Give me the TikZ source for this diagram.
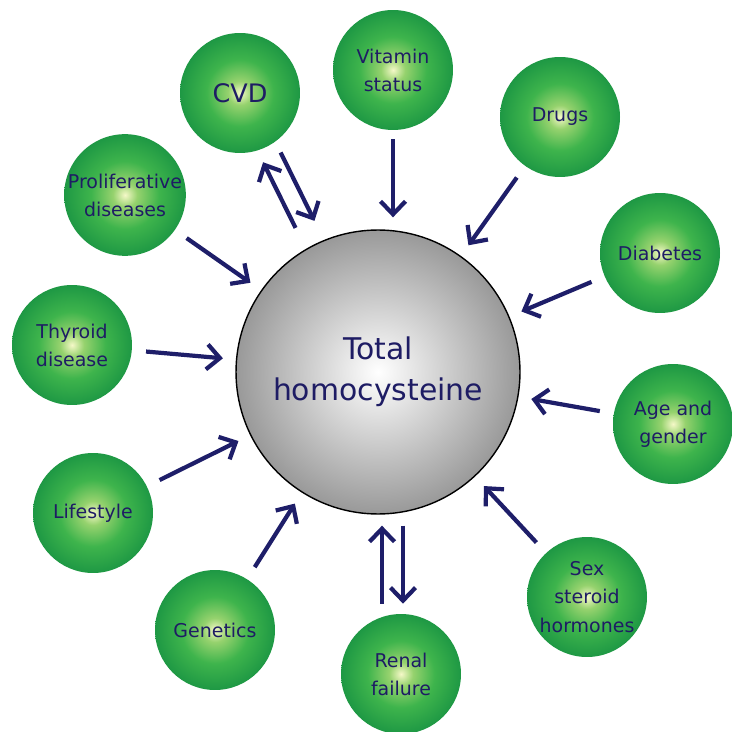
\documentclass[tikz,border=0pt]{standalone}
\usepackage{fontspec}
\setmainfont{DejaVu Sans}
\usepackage{tikz}
\usetikzlibrary{arrows.meta,calc,positioning}

\definecolor{arrowblue}{RGB}{30,30,105}
\definecolor{textblue}{RGB}{30,28,100}
\definecolor{ballhi}{RGB}{245,248,200}
\definecolor{ballsoft}{RGB}{150,210,110}
\definecolor{ballmid}{RGB}{62,180,76}
\definecolor{balledge}{RGB}{30,152,68}
\pgfdeclareradialshading{greenball}{\pgfpoint{0bp}{0bp}}{color(0bp)=(ballhi); color(5bp)=(ballsoft); color(14bp)=(ballmid); color(25bp)=(balledge); color(50bp)=(balledge)}

\begin{document}
\begin{tikzpicture}[x=0.02cm, y=-0.02cm,
		ball/.style={circle, shading=greenball, minimum size=2.4cm, inner sep=0pt,
			align=center, text=textblue, font=\fontsize{10.8}{16}\selectfont},
		hcyball/.style={circle, draw=black, line width=0.8pt, shading=radial,
			inner color=white, outer color=black!40, minimum size=5.68cm,
			align=center, text=textblue, font=\fontsize{17}{23.5}\selectfont},
		arr/.style={draw=arrowblue, line width=2.4pt,
			-{Straight Barb[length=0.26cm, width=0.5cm]},
			shorten <=0.28cm, shorten >=0.26cm}]
	\useasboundingbox (0,0) rectangle (731,732);
	
	% Centre
	\node[hcyball] (hcy) at (378,372) {Total\\homocysteine};
	
	% Surrounding factors
	\node[ball, font=\fontsize{14.5}{17}\selectfont] (cvd) at (240,93) {CVD};
	\foreach \name/\x/\y/\txt in {
		vit/393/70/{Vitamin\\status},
		drugs/560/117/{Drugs},
		diab/660/253/{Diabetes},
		age/673/424/{Age and\\gender},
		sex/587/597/{Sex\\steroid\\hormones},
		renal/401/674/{Renal\\failure},
		gen/215/630/{Genetics},
		life/93/513/{Lifestyle},
		thy/72/345/{Thyroid\\disease},
		prol/125/195/{Proliferative\\diseases}} {
		\node[ball] (\name) at (\x,\y) {\txt};
	}
	
	% One-way arrows
	\foreach \a in {drugs,diab,age,sex,gen,life,thy,prol} {
		\draw[arr] (\a) -- (hcy);
	}
	\draw[arr, shorten <=0.18cm, shorten >=0.24cm] (vit) -- (vit |- hcy.north);
	
	% Two-way arrows: CVD
	\draw[arr, shorten <=0.46cm, shorten >=0.24cm,
		transform canvas={shift={(-9,4.4)}}] (hcy) -- (cvd);
	\draw[arr, shorten <=0.22cm, shorten >=0.42cm,
		transform canvas={shift={(9,-4.4)}}] (cvd) -- (hcy);
	
	% Two-way arrows: renal failure
	\coordinate (rl) at ([xshift=-0.38cm]renal.north);
	\coordinate (rr) at ([xshift=0.04cm]renal.north);
	\draw[arr, shorten <=0.2cm, shorten >=0.22cm] (rl) -- (rl |- hcy.south);
	\draw[arr, shorten <=0.22cm, shorten >=0.2cm] (rr |- hcy.south) -- (rr);
\end{tikzpicture}
\end{document}
